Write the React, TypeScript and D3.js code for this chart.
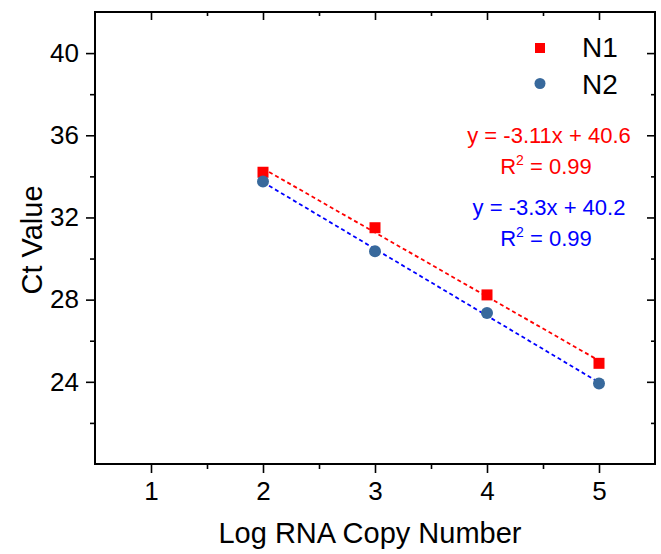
import * as d3 from 'd3'
import { useEffect, useRef } from 'react'

// log copy number on x, Ct on y
const logCopies = [2, 3, 4, 5]
const n1Ct = [34.2, 31.5, 28.23, 24.9]
const n2Ct = [33.75, 30.35, 27.35, 23.92]

const seriesNames = ['N1', 'N2']
const xTicks = [1, 2, 3, 4, 5]
const xMinor = [1.5, 2.5, 3.5, 4.5]
const yTicks = [24, 28, 32, 36, 40]
const yMinor = [22, 26, 30, 34, 38]

const n1Fit = ['y = -3.11x + 40.6', '0.99']
const n2Fit = ['y = -3.3x + 40.2', '0.99']

const W = 661
const H = 554
const FONT = '"Liberation Sans", Arial, sans-serif'

function linFit(xs: number[], ys: number[]) {
    const mx = d3.mean(xs)!
    const my = d3.mean(ys)!
    const sxy = d3.sum(xs, (v, i) => (v - mx) * (ys[i] - my))
    const sxx = d3.sum(xs, v => (v - mx) * (v - mx))
    const slope = sxy / sxx
    return { slope, intercept: my - slope * mx }
}

export default function App() {
    const ref = useRef<SVGSVGElement>(null)

    useEffect(() => {
        const margin = { top: 12, right: 6, bottom: 90, left: 95 }
        const svg = d3.select(ref.current)
        svg.selectAll('*').remove()

        const x = d3.scaleLinear().domain([0.5, 5.5]).range([margin.left, W - margin.right])
        const y = d3.scaleLinear().domain([20, 42]).range([H - margin.bottom, margin.top])

        const left = margin.left
        const right = W - margin.right
        const top = margin.top
        const bottom = H - margin.bottom
        const noLabel = () => ''

        // bottom axis (ticks outward)
        const gb = svg.append('g').attr('transform', `translate(0,${bottom})`)
        gb.call(d3.axisBottom(x).tickValues(xTicks).tickFormat(d3.format('d')).tickSize(9).tickPadding(9).tickSizeOuter(0))
        gb.append('g').call(d3.axisBottom(x).tickValues(xMinor).tickSize(5).tickFormat(noLabel).tickSizeOuter(0))

        // left axis (ticks outward)
        const gl = svg.append('g').attr('transform', `translate(${left},0)`)
        gl.call(d3.axisLeft(y).tickValues(yTicks).tickFormat(d3.format('d')).tickSize(9).tickPadding(7).tickSizeOuter(0))
        gl.append('g').call(d3.axisLeft(y).tickValues(yMinor).tickSize(5).tickFormat(noLabel).tickSizeOuter(0))

        // top and right: ticks inward, no labels
        const gt = svg.append('g').attr('transform', `translate(0,${top})`)
        gt.call(d3.axisBottom(x).tickValues(xTicks).tickSize(8).tickFormat(noLabel).tickSizeOuter(0))
        gt.append('g').call(d3.axisBottom(x).tickValues(xMinor).tickSize(4).tickFormat(noLabel).tickSizeOuter(0))

        const gr = svg.append('g').attr('transform', `translate(${right},0)`)
        gr.call(d3.axisLeft(y).tickValues(yTicks).tickSize(8).tickFormat(noLabel).tickSizeOuter(0))
        gr.append('g').call(d3.axisLeft(y).tickValues(yMinor).tickSize(4).tickFormat(noLabel).tickSizeOuter(0))

        svg.selectAll('.domain').remove()
        svg.selectAll('.tick line').attr('stroke', '#000').attr('stroke-width', 1.6)
        svg.selectAll('.tick text').attr('font-family', FONT).attr('font-size', 26).attr('fill', '#000')

        svg.append('rect')
            .attr('x', left).attr('y', top)
            .attr('width', right - left).attr('height', bottom - top)
            .attr('fill', 'none').attr('stroke', '#000').attr('stroke-width', 2)

        // fit lines
        const series = [
            { ys: n1Ct, color: '#ff0000' },
            { ys: n2Ct, color: '#0000ff' },
        ]
        const x0 = d3.min(logCopies)!
        const x1 = d3.max(logCopies)!
        series.forEach(s => {
            const f = linFit(logCopies, s.ys)
            svg.append('line')
                .attr('x1', x(x0)).attr('y1', y(f.slope * x0 + f.intercept))
                .attr('x2', x(x1)).attr('y2', y(f.slope * x1 + f.intercept))
                .attr('stroke', s.color).attr('stroke-width', 1.8)
                .attr('stroke-dasharray', '4,3')
        })

        // markers
        const sq = 11
        svg.append('g').selectAll('rect')
            .data(logCopies)
            .join('rect')
            .attr('x', (d) => x(d) - sq / 2)
            .attr('y', (d, i) => y(n1Ct[i]) - sq / 2)
            .attr('width', sq).attr('height', sq)
            .attr('fill', '#ff0000')

        svg.append('g').selectAll('circle')
            .data(logCopies)
            .join('circle')
            .attr('cx', d => x(d))
            .attr('cy', (d, i) => y(n2Ct[i]))
            .attr('r', 6)
            .attr('fill', '#38699c')

        // legend
        const lg = svg.append('g').attr('font-family', FONT).attr('font-size', 28)
        lg.append('rect').attr('x', 535).attr('y', 43).attr('width', 10).attr('height', 10).attr('fill', '#ff0000')
        lg.append('circle').attr('cx', 540).attr('cy', 83.5).attr('r', 5.5).attr('fill', '#38699c')
        lg.append('text').attr('x', 582).attr('y', 57).text(seriesNames[0])
        lg.append('text').attr('x', 582).attr('y', 93.5).text(seriesNames[1])

        // fit annotations
        const notes = [
            { lines: n1Fit, color: '#ff0000', y0: 143 },
            { lines: n2Fit, color: '#0000ff', y0: 215 },
        ]
        notes.forEach(n => {
            const g = svg.append('g').attr('font-family', FONT).attr('font-size', 22).attr('fill', n.color).attr('text-anchor', 'middle')
            g.append('text').attr('x', 549).attr('y', n.y0).text(n.lines[0])
            const r2 = g.append('text').attr('x', 546).attr('y', n.y0 + 31)
            r2.append('tspan').text('R')
            r2.append('tspan').attr('font-size', 14).attr('dy', -9).text('2')
            r2.append('tspan').attr('dy', 9).text(' = ' + n.lines[1])
        })

        // axis titles
        svg.append('text')
            .attr('x', 370).attr('y', 543)
            .attr('text-anchor', 'middle')
            .attr('font-family', FONT).attr('font-size', 29)
            .text('Log RNA Copy Number')

        svg.append('text')
            .attr('transform', 'translate(42,240) rotate(-90)')
            .attr('text-anchor', 'middle')
            .attr('font-family', FONT).attr('font-size', 29)
            .text('Ct Value')
    }, [])

    return (
        <div style={{ position: 'absolute', left: 0, top: 0, background: '#fff' }}>
            <svg ref={ref} width={W} height={H}></svg>
        </div>
    )
}
